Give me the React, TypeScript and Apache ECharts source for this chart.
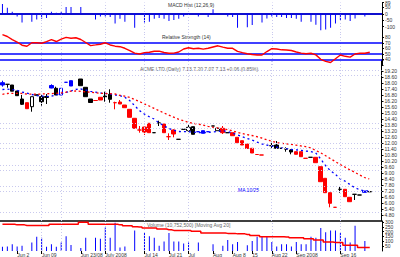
import React, { useEffect, useRef } from 'react';
import * as echarts from 'echarts';

// ---------- data ----------
const SLOT_COUNT = 78;

// [open, close, low, high] (price); null = no trading mark
const candles: (number[] | null)[] = [
  [17.80, 18.03, 17.63, 18.23], [17.87, 17.87, 17.53, 17.87], [17.18, 17.80, 17.18, 17.80], [16.73, 17.20, 16.73, 17.20], [15.87, 16.40, 15.80, 16.80],
  [15.43, 16.03, 15.43, 16.03], [15.63, 16.63, 15.13, 16.63], [16.78, 16.82, 16.78, 16.82], [16.13, 16.63, 15.73, 16.87], [16.55, 16.65, 15.90, 16.90],
  [17.50, 17.75, 17.47, 17.87], [16.80, 17.47, 16.80, 17.63], [16.80, 17.47, 16.80, 17.47], [18.07, 18.07, 18.07, 18.07], [17.70, 18.23, 17.70, 18.23],
  null, [17.73, 18.40, 17.73, 18.40], [16.63, 17.57, 16.63, 17.57], [16.05, 16.40, 16.05, 16.40], [16.25, 16.25, 16.25, 16.25],
  [16.30, 16.57, 16.30, 16.57], [16.60, 16.70, 16.13, 17.13], [16.37, 16.87, 16.03, 17.37], [16.03, 16.03, 15.37, 16.13], [15.90, 16.10, 15.90, 16.30],
  [15.53, 15.80, 15.53, 15.80], [14.57, 15.37, 14.57, 15.37], [13.47, 14.47, 13.47, 14.47], [13.30, 13.30, 13.03, 13.70], [13.10, 13.60, 12.80, 13.63],
  [13.03, 13.97, 13.03, 13.97], [13.03, 13.03, 13.03, 13.03], [14.00, 14.00, 13.70, 14.23], [13.03, 13.90, 13.03, 13.90], [12.63, 12.63, 12.30, 12.97],
  [12.90, 13.30, 12.57, 13.37], [12.37, 12.37, 12.37, 12.37], [13.37, 13.37, 13.37, 13.37], [13.23, 13.57, 13.13, 13.80], [12.87, 13.63, 12.87, 13.63],
  [13.13, 13.13, 13.13, 13.13], [12.97, 13.23, 12.97, 13.23], [13.13, 13.13, 13.13, 13.13], [13.70, 13.70, 13.70, 13.70], [13.23, 13.47, 13.23, 13.47],
  [13.03, 13.47, 12.90, 13.70], [13.03, 13.03, 13.03, 13.03], [12.73, 13.03, 12.73, 13.03], [12.03, 12.57, 12.03, 12.57], [11.80, 12.23, 11.80, 12.23],
  [11.45, 11.90, 11.45, 11.90], [11.00, 11.47, 11.00, 11.47], [10.85, 10.85, 10.85, 10.85], [10.80, 10.80, 10.80, 10.80], null,
  [11.73, 11.73, 11.47, 12.13], [11.47, 11.80, 11.47, 12.20], [11.47, 11.47, 11.47, 11.47], [11.40, 11.40, 11.13, 11.57], [11.10, 11.30, 10.87, 11.37],
  [10.87, 11.13, 10.87, 11.13], [10.63, 11.13, 10.63, 11.13], [10.47, 10.47, 10.47, 10.47], [10.57, 10.57, 10.57, 10.57], [10.03, 10.57, 10.03, 10.57],
  [8.13, 9.63, 8.13, 9.63], [7.03, 8.47, 7.03, 8.47], [5.97, 7.03, 5.57, 7.03], [5.57, 5.57, 5.57, 5.57], [7.37, 7.37, 7.03, 7.70],
  [6.63, 7.37, 6.63, 7.37], [6.13, 6.57, 6.13, 6.57], [6.87, 6.87, 6.30, 6.90], [6.80, 6.80, 6.80, 6.80], [7.07, 7.20, 7.07, 7.20],
  [7.13, 7.13, 7.13, 7.13],
];

// k = black, r = red, b = blue, h = hollow black, bh = hollow blue
const candleKinds: string[] = [
  'b', 'k', 'k', 'k', 'k', 'r', 'h', 'k', 'k', 'k',
  'b', 'k', 'bh', 'b', 'b', '-', 'k', 'k', 'k', 'r',
  'r', 'k', 'k', 'r', 'r', 'r', 'r', 'r', 'r', 'r',
  'r', 'k', 'k', 'r', 'r', 'r', 'k', 'k', 'h', 'k',
  'b', 'b', 'b', 'k', 'h', 'r', 'k', 'r', 'r', 'r',
  'r', 'r', 'r', 'r', '-', 'k', 'k', 'k', 'k', 'k',
  'r', 'r', 'r', 'k', 'r', 'r', 'r', 'r', 'r', 'k',
  'r', 'r', 'k', 'k', 'b', 'k',
];

const maShort: number[] = [
  17.35, 17.38, 17.34, 17.26, 17.10, 16.98, 16.85, 16.73, 16.69, 16.66,
  16.67, 16.80, 16.92, 17.06, 17.20, 17.36, 17.40, 17.30, 17.17, 17.09,
  17.01, 16.95, 16.90, 16.80, 16.75, 16.57, 16.25, 15.75, 15.25, 14.90,
  14.63, 14.40, 14.02, 13.73, 13.45, 13.28, 13.15, 13.13, 13.13, 13.10,
  13.05, 13.04, 13.06, 13.10, 13.15, 13.22, 13.16, 13.00, 12.82, 12.63,
  12.45, 12.30, 12.10, 11.92, 11.80, 11.70, 11.60, 11.51, 11.43, 11.36,
  11.32, 11.27, 11.20, 11.15, 11.04, 10.45, 9.78, 9.25, 8.90, 8.44,
  8.20, 7.86, 7.54, 7.33, 7.20, 7.20,
];

const maLong: number[] = [
  16.87, 16.95, 16.97, 16.97, 16.95, 16.90, 16.88, 16.88, 16.90, 16.92,
  16.94, 16.97, 17.01, 17.08, 17.18, 17.20, 17.17, 17.12, 17.07, 17.02,
  16.97, 16.95, 16.93, 16.90, 16.77, 16.68, 16.56, 16.35, 16.14, 15.92,
  15.70, 15.47, 15.23, 15.01, 14.79, 14.59, 14.38, 14.22, 14.07, 13.97,
  13.89, 13.79, 13.67, 13.58, 13.50, 13.42, 13.34, 13.22, 13.07, 12.95,
  12.84, 12.75, 12.63, 12.50, 12.33, 12.18, 12.05, 11.96, 11.92, 11.87,
  11.79, 11.71, 11.63, 11.52, 11.27, 11.04, 10.75, 10.45, 10.16, 9.87,
  9.60, 9.33, 9.08, 8.81, 8.55, 8.40,
];

const histValues: (number | null)[] = [
  77, 48, 17, -20, -68, null, -61, -44, -39, -32,
  17, 9, 17, 53, 53, null, 53, null, null, -44,
  -20, -20, -25, -75, -39, -61, null, -109, null, -68,
  -61, -39, -32, -39, -56, -49, -39, -20, null, null,
  -20, null, -25, 36, null, null, -20, -25, -109, null,
  -104, -87, null, -68, -36, -20, -25, -25, -32, -32,
  -39, -61, null, -61, -85, -128, -123, -109, -75, -49,
  -44, -56, -36, null, -20, null,
];

const rsiValues: number[] = [
  85.3, 81.8, 76.0, 71.8, 66.0, 64.0, 70.5, 70.5, 69.5, 72.4,
  76.2, 72.7, 77.1, 80.2, 78.7, 79.6, 76.4, 70.9, 65.3, 66.5,
  67.8, 70.4, 66.4, 64.2, 63.3, 60.4, 56.2, 51.5, 50.0, 52.5,
  53.1, 55.1, 55.1, 52.7, 51.3, 51.5, 53.6, 59.1, 61.3, 59.6,
  60.4, 58.9, 60.4, 62.7, 64.9, 62.5, 60.4, 60.4, 54.9, 52.4,
  50.4, 49.1, 48.2, 48.2, 54.5, 59.6, 59.1, 57.6, 57.3, 56.4,
  53.6, 51.6, 50.5, 51.3, 48.4, 40.4, 36.5, 34.5, 41.3, 48.2,
  45.8, 44.4, 50.0, 51.3, 51.3, 53.1,
];

const volumeValues: (number | null)[] = [
  43, 47, 70, 47, 53, null, 87, 147, 137, 43,
  70, 43, 87, 153, 63, null, 30, 137, null, 137,
  127, 243, 137, 293, 37, 47, null, 213, null, 187,
  153, 137, 53, 97, 187, 97, 97, 77, 87, null,
  87, null, null, 70, null, 53, 113, 70, 93, null,
  60, 103, 147, 147, 147, 93, 47, 70, 70, 47,
  93, 70, 70, 147, 137, 237, 193, 213, 213, 187,
  137, 87, 260, null, 103, null,
];

const volumeMA: number[] = [
  277, 277, 277, 270, 270, 263, 263, 263, 263, 263,
  277, 277, 277, 277, 277, 277, 297, 297, 277, 277,
  277, 277, 277, 277, 270, 260, 260, 250, 247, 237,
  237, 237, 227, 227, 220, 213, 213, 213, 213, 203,
  203, 187, 187, 187, 187, 187, 182, 182, 177, 177,
  170, 160, 160, 147, 147, 147, 147, 147, 145, 137,
  137, 137, 127, 127, 113, 113, 93, 93, 87, 87,
  60, 60, 60, 37, 37, 37,
];

const xTickLabels: [number, string][] = [
  [3, 'Jun 2'], [8, 'Jun 09'], [16, 'Jun 23/08'], [21, 'July 2008'], [29, 'Jul 14'],
  [34, 'Jul 21'], [38, 'Jul'], [43, 'Aug'], [47, 'Aug 8'], [51, '15'],
  [55, 'Aug 22'], [60, 'Sep 2008'], [69, 'Sep 16'],
];

const verticalGridIdx: number[] = [8, 12, 21, 29, 38, 55, 69];
const priceGridLines: number[] = [19.25, 18.75, 14.0, 13.5, 11.95, 11.45, 9.8, 9.3, 7.7, 7.2, 5.1];
const rsiLevels: number[] = [70, 50, 40];

// ---------- styling helpers ----------
const FONT = 'Liberation Sans';
const BLUE = '#0000ff';
const RED = '#ff0000';
const dotted = { color: '#c9c9ee', width: 1, type: [1, 2] };

const kindStyle = (k: string) => {
  switch (k) {
    case 'r': return { fill: RED, stroke: RED };
    case 'b': return { fill: BLUE, stroke: BLUE };
    case 'h': return { fill: '#ffffff', stroke: '#000000' };
    case 'bh': return { fill: '#ffffff', stroke: BLUE };
    default: return { fill: '#000000', stroke: '#000000' };
  }
};

const verticalMarks = () =>
  verticalGridIdx.map((i) => ({ xAxis: String(i), lineStyle: dotted }));

const baseMarkLine = (data: any[]) => ({
  silent: true,
  symbol: ['none', 'none'],
  label: { show: false },
  animation: false,
  data,
});

export default function App() {
  const ref = useRef<HTMLDivElement>(null);

  useEffect(() => {
    if (!ref.current) return;
    const chart = echarts.init(ref.current, undefined, { renderer: 'svg' });
    const cats = Array.from({ length: SLOT_COUNT }, (_, i) => String(i));
    const labelMap = new Map<number, string>(xTickLabels);

    const candleData = candles.map((c, i) => {
      if (!c) return '-';
      const s = kindStyle(candleKinds[i]);
      return {
        value: c,
        itemStyle: {
          color: s.fill, color0: s.fill,
          borderColor: s.stroke, borderColor0: s.stroke, borderColorDoji: s.stroke,
          borderWidth: 1,
        },
      };
    });

    const yLabel = { fontSize: 5, color: '#333', fontFamily: FONT, margin: 3 };
    const yCommon = {
      type: 'value',
      position: 'right',
      scale: false,
      splitLine: { show: false },
      axisLine: { show: true, lineStyle: { color: '#000', width: 1 } },
      axisTick: { show: true, length: 2, lineStyle: { color: '#000' } },
    };
    const xCommon = {
      type: 'category',
      data: cats,
      boundaryGap: true,
      axisTick: { show: false },
      axisLabel: { show: false },
      splitLine: { show: false },
    };

    const option: any = {
      animation: false,
      backgroundColor: '#ffffff',
      grid: [
        { left: 0, right: 18, top: 0, height: 33 },
        { left: 0, right: 18, top: 33, height: 32 },
        { left: 0, right: 18, top: 60, height: 161 },
        { left: 0, right: 18, top: 221, height: 31 },
      ],
      xAxis: [
        { ...xCommon, gridIndex: 0, axisLine: { show: true, lineStyle: { color: '#000', width: 1.5 } } },
        { ...xCommon, gridIndex: 1, axisLine: { show: false } },
        { ...xCommon, gridIndex: 2, axisLine: { show: true, lineStyle: { color: '#000', width: 1.5 } } },
        {
          ...xCommon,
          gridIndex: 3,
          axisLine: { show: false },
          axisTick: {
            show: true, alignWithLabel: true, length: 3, inside: false,
            interval: (idx: number) => labelMap.has(idx),
            lineStyle: { color: '#000' },
          },
          axisLabel: {
            show: true,
            interval: (idx: number) => labelMap.has(idx),
            formatter: (_v: string, idx: number) => labelMap.get(idx) || '',
            fontSize: 5, color: '#333', fontFamily: FONT, align: 'left', margin: 1,
          },
        },
      ],
      yAxis: [
        { ...yCommon, gridIndex: 0, min: -150, max: 89, interval: 50,
          axisLabel: { ...yLabel, showMinLabel: false } },
        { ...yCommon, gridIndex: 1, min: 30, max: 88.18, interval: 10,
          axisLabel: { ...yLabel, showMinLabel: false, showMaxLabel: false } },
        { ...yCommon, gridIndex: 2, min: 4.2, max: 20.3, interval: 0.6,
          axisLabel: { ...yLabel, showMinLabel: false,
            formatter: (v: number) => (v > 19.5 ? '' : v.toFixed(2)) } },
        { ...yCommon, gridIndex: 3, min: 0, max: 310, interval: 50,
          axisLabel: { ...yLabel, showMinLabel: false, showMaxLabel: false } },
      ],
      series: [
        {
          type: 'bar', name: 'hist', xAxisIndex: 0, yAxisIndex: 0,
          data: histValues, barWidth: 1, itemStyle: { color: BLUE },
          markLine: baseMarkLine([
            ...verticalMarks(),
            { yAxis: 0, lineStyle: { color: BLUE, width: 1.5, type: 'solid' } },
          ]),
        },
        {
          type: 'line', name: 'rsi', xAxisIndex: 1, yAxisIndex: 1,
          data: rsiValues, symbol: 'none', lineStyle: { color: RED, width: 1.4 },
          z: 5,
          markLine: baseMarkLine([
            ...verticalMarks(),
            ...rsiLevels.map((v) => ({ yAxis: v, lineStyle: { color: BLUE, width: 1.5, type: 'solid' } })),
          ]),
        },
        {
          type: 'candlestick', name: 'price', xAxisIndex: 2, yAxisIndex: 2,
          data: candleData, barWidth: 4,
          markLine: baseMarkLine([
            ...verticalMarks(),
            ...priceGridLines.map((v) => ({ yAxis: v, lineStyle: dotted })),
          ]),
        },
        {
          type: 'line', name: 'maShort', xAxisIndex: 2, yAxisIndex: 2,
          data: maShort, symbol: 'none',
          lineStyle: { color: BLUE, width: 1.3, type: [2, 3] },
        },
        {
          type: 'line', name: 'maLong', xAxisIndex: 2, yAxisIndex: 2,
          data: maLong, symbol: 'none',
          lineStyle: { color: RED, width: 1.3, type: [2, 2.5] },
        },
        {
          type: 'bar', name: 'volume', xAxisIndex: 3, yAxisIndex: 3,
          data: volumeValues, barWidth: 1, itemStyle: { color: BLUE },
          markLine: baseMarkLine(verticalMarks()),
        },
        {
          type: 'line', name: 'volumeMA', xAxisIndex: 3, yAxisIndex: 3,
          data: volumeMA, symbol: 'none', step: 'middle',
          lineStyle: { color: RED, width: 1.5 },
        },
      ],
      graphic: [
        { type: 'text', x: 168, y: 2, style: { text: 'MACD Hist (12,26,9)', fill: '#333', fontSize: 5, fontFamily: FONT } },
        { type: 'text', x: 162, y: 34, style: { text: 'Relative Strength (14)', fill: '#333', fontSize: 5, fontFamily: FONT } },
        { type: 'text', x: 140, y: 66, style: { text: 'ACME LTD (Daily) 7.13 7.20 7.07 7.13 +0.06 (0.85%)', fill: '#666', fontSize: 5, fontFamily: FONT } },
        { type: 'text', x: 238, y: 187, style: { text: 'MA 10/25', fill: BLUE, fontSize: 5, fontFamily: FONT } },
        { type: 'text', x: 147, y: 222, style: { text: 'Volume (10,752,500) [Moving Avg 20]', fill: '#666', fontSize: 5, fontFamily: FONT } },
      ],
    };

    chart.setOption(option);
    return () => chart.dispose();
  }, []);

  return (
    <div
      ref={ref}
      style={{ position: 'fixed', left: 0, top: 0, width: 400, height: 257, background: '#fff' }}
    />
  );
}
